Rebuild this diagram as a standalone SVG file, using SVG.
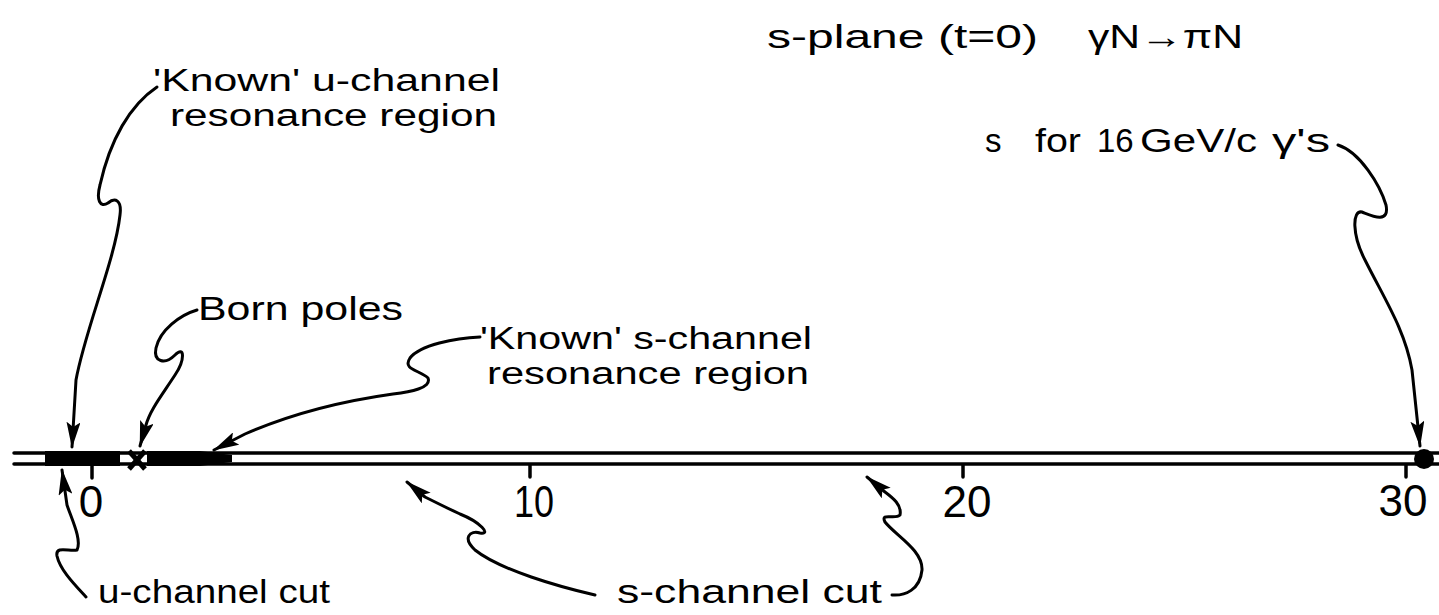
<svg xmlns="http://www.w3.org/2000/svg" width="1439" height="615" viewBox="0 0 1439 615">
<style>
.t{font-family:"Liberation Sans","DejaVu Sans",sans-serif;font-size:31px;fill:#000}
.b{font-size:33px}
.n{font-family:"Liberation Sans","DejaVu Sans",sans-serif;font-size:44px;fill:#000;text-anchor:middle}
.c{fill:none;stroke:#000;stroke-width:3;stroke-linecap:round;stroke-linejoin:round}
.ax{stroke:#000;stroke-width:3.5;stroke-linecap:round}
</style>
<defs>
<marker id="ah" viewBox="0 0 26 14" refX="25" refY="7" markerWidth="26" markerHeight="14" markerUnits="userSpaceOnUse" orient="auto">
<path d="M0,0 L26,7 L0,14 L5,7 Z" fill="#000"/>
</marker>
</defs>
<rect width="1439" height="615" fill="#fff"/>

<g id="axis">
<line class="ax" x1="14" y1="453" x2="1439" y2="453"/>
<line class="ax" x1="14" y1="464" x2="1439" y2="464"/>
<rect x="45" y="451" width="75" height="15" fill="#000"/>
<path d="M147,451 L200,451 L232,455 L232,462 L200,466 L147,466 Z" fill="#000"/>
<line class="ax" x1="92" y1="465" x2="92" y2="478"/>
<line class="ax" x1="530" y1="465" x2="530" y2="477"/>
<line class="ax" x1="963" y1="465" x2="963" y2="477"/>
<line class="ax" x1="1406" y1="465" x2="1406" y2="477"/>
<circle cx="1424" cy="459" r="10" fill="#000"/>
</g>

<g id="born-pole-mark">
<line x1="129" y1="451" x2="145" y2="469" stroke="#000" stroke-width="5"/>
<line x1="145" y1="451" x2="129" y2="469" stroke="#000" stroke-width="5"/>
</g>

<g id="tick-labels">
<text class="n" x="91" y="517">0</text>
<text class="n" x="534" y="517" textLength="40" lengthAdjust="spacingAndGlyphs">10</text>
<text class="n" x="967" y="517">20</text>
<text class="n" x="1403" y="516">30</text>
</g>

<g id="title">
<text class="t b" x="767" y="48" textLength="271" lengthAdjust="spacingAndGlyphs">s-plane (t=0)</text>
<text class="t b" x="1088" y="48" textLength="155" lengthAdjust="spacingAndGlyphs">γN→πN</text>
</g>

<g id="known-u">
<text class="t" x="153" y="91" textLength="347" lengthAdjust="spacingAndGlyphs">'Known' u-channel</text>
<text class="t" x="170" y="126" textLength="327" lengthAdjust="spacingAndGlyphs">resonance region</text>
</g>

<g id="s16">
<text class="t b" x="985" y="152">s</text>
<text class="t b" x="1035" y="152" textLength="46" lengthAdjust="spacingAndGlyphs">for</text>
<text class="t b" x="1097" y="152">16</text>
<text class="t b" x="1140" y="152" textLength="117" lengthAdjust="spacingAndGlyphs">GeV/c</text>
<text class="t b" x="1272" y="152" textLength="58" lengthAdjust="spacingAndGlyphs">γ's</text>
</g>

<g id="born-poles">
<text class="t b" x="198" y="320" textLength="205" lengthAdjust="spacingAndGlyphs">Born  poles</text>
</g>

<g id="known-s">
<text class="t" x="480" y="349" textLength="332" lengthAdjust="spacingAndGlyphs">'Known' s-channel</text>
<text class="t" x="487" y="384" textLength="322" lengthAdjust="spacingAndGlyphs">resonance region</text>
</g>

<g id="u-cut">
<text class="t b" x="98" y="603" textLength="232" lengthAdjust="spacingAndGlyphs">u-channel cut</text>
</g>

<g id="s-cut">
<text class="t b" x="617" y="603" textLength="265" lengthAdjust="spacingAndGlyphs">s-channel cut</text>
</g>

<g id="connectors">
<path class="c" marker-end="url(#ah)" d="M157,87 C130,105 110,140 100,185 C96,200 100,208 108,203 C115,197 122,200 120,215 C115,260 85,330 76,380 L72,447"/>
<path class="c" marker-end="url(#ah)" d="M197,310 C180,315 160,330 156,348 C153,362 165,365 175,355 C185,345 185,360 175,375 C162,395 150,410 146,425 L140,446"/>
<path class="c" marker-end="url(#ah)" d="M480,337 C455,338 420,345 410,358 C402,370 420,370 428,378 C432,388 410,392 393,394 C350,400 300,410 245,434 L214,450"/>
<path class="c" marker-end="url(#ah)" d="M1338,145 C1360,152 1380,185 1386,205 C1390,225 1370,215 1362,212 C1352,210 1352,235 1365,260 C1385,300 1405,330 1412,370 L1420,446"/>
<path class="c" marker-end="url(#ah)" d="M86,597 C75,585 60,570 57,556 C55,545 70,552 77,550 C82,540 72,520 67,505 L62,470"/>
<path class="c" marker-end="url(#ah)" d="M595,595 C560,587 500,570 475,550 C462,538 470,530 480,533 C492,535 480,522 460,514 C445,507 435,502 425,497 L407,482"/>
<path class="c" marker-end="url(#ah)" d="M892,595 C905,596 920,590 922,570 C923,550 895,535 885,522 C880,512 895,520 900,515 C902,505 893,498 885,492 L867,477"/>
</g>
</svg>
